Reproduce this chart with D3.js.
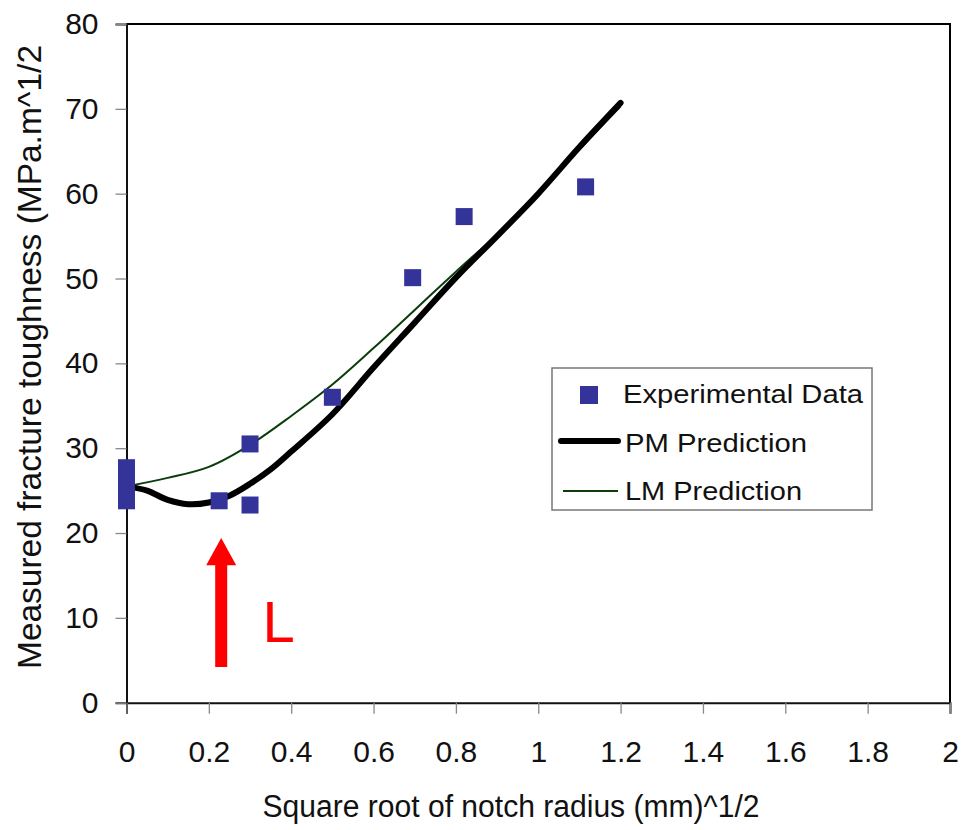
<!DOCTYPE html>
<html>
<head>
<meta charset="utf-8">
<script src="https://cdn.jsdelivr.net/npm/d3@7"></script>
<style>
  body { margin: 0; background: #fff; }
  svg { display: block; font-family: "Liberation Sans", Arial, sans-serif; }
</style>
</head>
<body>
<svg width="964" height="830"></svg>
<script>
// experimental points (sqrt notch radius, toughness)
const expX = [0, 0, 0, 0, 0.225, 0.3, 0.3, 0.5, 0.695, 0.82, 1.115];
const expY = [23.8, 25.0, 26.5, 27.7, 23.8, 30.5, 23.3, 36.0, 50.1, 57.3, 60.8];

// PM prediction curve
const pmX = [0, 0.05, 0.1, 0.15, 0.2, 0.25, 0.3, 0.35, 0.4, 0.5, 0.6, 0.7, 0.8, 0.9, 1.0, 1.1, 1.2];
const pmY = [25.5, 25.0, 23.9, 23.4, 23.6, 24.4, 25.8, 27.5, 29.6, 34.0, 39.5, 44.8, 50.1, 55.0, 60.0, 65.5, 70.7];

// LM prediction curve
const lmX = [0, 0.1, 0.2, 0.3, 0.4, 0.5, 0.6, 0.7, 0.8, 0.9, 1.0, 1.1, 1.2];
const lmY = [25.5, 26.5, 27.8, 30.4, 33.8, 37.5, 41.8, 46.3, 50.8, 55.2, 60.0, 65.2, 70.3];

const xTicks = [0, 0.2, 0.4, 0.6, 0.8, 1, 1.2, 1.4, 1.6, 1.8, 2];
const yTicks = [0, 10, 20, 30, 40, 50, 60, 70, 80];

const legendItems = ['Experimental Data', 'PM Prediction', 'LM Prediction'];

const svg = d3.select('svg');

const x = d3.scaleLinear().domain([0, 2]).range([126.5, 950]);
const y = d3.scaleLinear().domain([0, 80]).range([702.7, 24]);

// frame (top + right)
svg.append('path')
  .attr('d', `M${x(0)},${y(80)}H${x(2)}V${y(0)}`)
  .attr('fill', 'none')
  .attr('stroke', '#000')
  .attr('stroke-width', 2);

const yAxis = svg.append('g')
  .attr('transform', `translate(${x(0)},0)`)
  .call(d3.axisLeft(y).tickValues(yTicks).tickSize(11).tickPadding(17).tickFormat(d3.format('d')));

const xAxis = svg.append('g')
  .attr('transform', `translate(0,${y(0)})`)
  .call(d3.axisBottom(x).tickValues(xTicks).tickSize(11).tickPadding(27).tickFormat(d => String(d)));

[xAxis, yAxis].forEach(g => {
  g.select('.domain').attr('stroke', '#111').attr('stroke-width', 2);
  g.selectAll('.tick line').attr('stroke', '#888').attr('stroke-width', 1.3);
  g.selectAll('.tick text')
    .attr('font-size', 30)
    .attr('font-family', '"Liberation Sans", Arial, sans-serif')
    .attr('fill', '#111');
});

// axis titles
svg.append('text')
  .attr('x', 511)
  .attr('y', 817)
  .attr('text-anchor', 'middle')
  .attr('font-size', 31)
  .attr('textLength', 497)
  .attr('lengthAdjust', 'spacingAndGlyphs')
  .attr('fill', '#111')
  .text('Square root of notch radius (mm)^1/2');

svg.append('text')
  .attr('transform', 'translate(41,669) rotate(-90)')
  .attr('text-anchor', 'start')
  .attr('font-size', 34)
  .attr('textLength', 624)
  .attr('lengthAdjust', 'spacingAndGlyphs')
  .attr('fill', '#111')
  .text('Measured fracture toughness (MPa.m^1/2');

// curves
const line = d3.line()
  .x(d => x(d[0]))
  .y(d => y(d[1]))
  .curve(d3.curveCatmullRom);

svg.append('path')
  .datum(lmX.map((v, i) => [v, lmY[i]]))
  .attr('d', line)
  .attr('fill', 'none')
  .attr('stroke', '#0b3d0b')
  .attr('stroke-width', 2);

svg.append('path')
  .datum(pmX.map((v, i) => [v, pmY[i]]))
  .attr('d', line)
  .attr('fill', 'none')
  .attr('stroke', '#000')
  .attr('stroke-width', 6)
  .attr('stroke-linecap', 'round')
  .attr('stroke-linejoin', 'round');

// experimental squares
const sq = 17;
svg.append('g')
  .selectAll('rect')
  .data(expX.map((v, i) => [v, expY[i]]))
  .join('rect')
  .attr('x', d => x(d[0]) - sq / 2)
  .attr('y', d => y(d[1]) - sq / 2)
  .attr('width', sq)
  .attr('height', sq)
  .attr('fill', '#333399');

// red arrow annotation
const arrowX = 0.23, arrowFrom = 4.2, arrowBase = 16.2, arrowTip = 19.4;
const ax = x(arrowX);
svg.append('path')
  .attr('d', `M${ax - 6},${y(arrowFrom)}V${y(arrowBase)}H${ax - 15}L${ax},${y(arrowTip)}L${ax + 15},${y(arrowBase)}H${ax + 6}V${y(arrowFrom)}Z`)
  .attr('fill', '#ff0000');

svg.append('text')
  .attr('x', x(0.33))
  .attr('y', y(7.1))
  .attr('font-size', 58)
  .attr('fill', '#ff0000')
  .text('L');

// legend
const lg = svg.append('g').attr('transform', 'translate(552,368)');
lg.append('rect')
  .attr('width', 320)
  .attr('height', 142)
  .attr('fill', '#fff')
  .attr('stroke', '#777')
  .attr('stroke-width', 1.5);

lg.append('rect')
  .attr('x', 28).attr('y', 18)
  .attr('width', 18).attr('height', 18)
  .attr('fill', '#333399');
lg.append('line')
  .attr('x1', 9).attr('x2', 66).attr('y1', 73).attr('y2', 73)
  .attr('stroke', '#000').attr('stroke-width', 6).attr('stroke-linecap', 'round');
lg.append('line')
  .attr('x1', 11).attr('x2', 66).attr('y1', 123).attr('y2', 123)
  .attr('stroke', '#0b3d0b').attr('stroke-width', 2);

const legendWidths = [240, 182, 177];
lg.selectAll('text.item')
  .data(legendItems)
  .join('text')
  .attr('class', 'item')
  .attr('x', (d, i) => i === 0 ? 71 : 73)
  .attr('y', (d, i) => 35 + i * 48.5)
  .attr('font-size', 25)
  .attr('textLength', (d, i) => legendWidths[i])
  .attr('lengthAdjust', 'spacingAndGlyphs')
  .attr('fill', '#111')
  .text(d => d);
</script>
</body>
</html>
